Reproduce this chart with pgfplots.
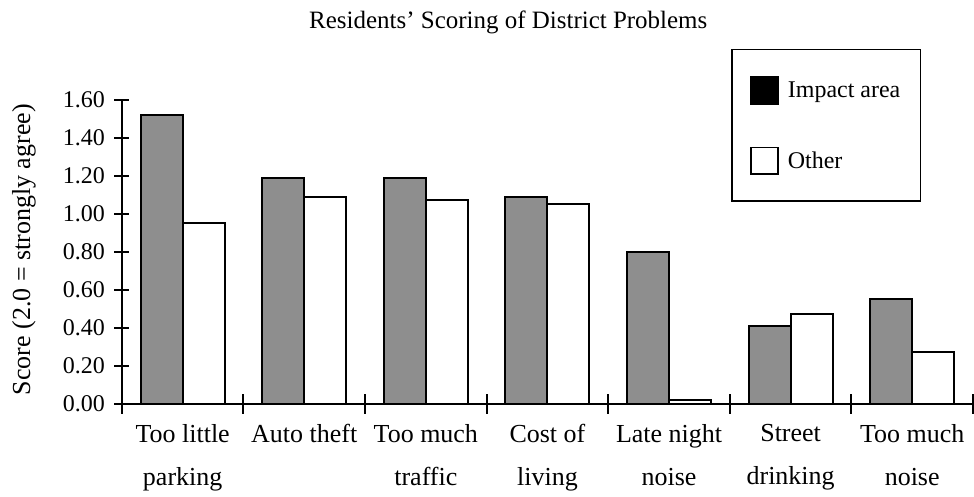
\documentclass[border=0pt]{standalone}
\usepackage{fontspec}
\setmainfont{Liberation Serif}
\usepackage{pgfplots}
\pgfplotsset{compat=1.18}
\definecolor{barfill}{HTML}{8E8E8E}

\begin{document}
\begin{tikzpicture}
\begin{axis}[
    scale only axis, width=852pt, height=304pt,
    ybar=0pt, bar width=42pt,
    xmin=-0.5, xmax=6.5, ymin=0, ymax=1.6,
    axis x line=bottom, axis y line=left,
    axis line style={-, line width=2pt},
    xtick={0,...,6}, major x tick style={draw=none},
    xticklabels={Too little\\parking, Auto theft, Too much\\traffic, Cost of\\living, Late night\\noise, Street\\drinking, Too much\\noise},
    x tick label style={align=center, font=\fontsize{26}{43}\selectfont, yshift=-10pt},
    minor xtick={-0.5,0.5,...,6.5},
    minor x tick style={draw=black, line width=2pt},
    minor tick length=20pt,
    ytick={0,0.2,...,1.6},
    y tick label style={/pgf/number format/fixed, /pgf/number format/fixed zerofill,
        /pgf/number format/precision=2, /pgf/number format/assume math mode=true,
        font=\fontsize{24}{26}\selectfont, xshift=-6pt},
    y tick style={draw=black, line width=2pt},
    major tick length=15pt,
    tick align=center,
    ylabel={Score (2.0 = strongly agree)},
    every axis y label/.style={at={(rel axis cs:0,0.507)}, xshift=-98pt, rotate=90, anchor=center,
        font=\fontsize{26}{28}\selectfont},
    title={Residents' Scoring of District Problems},
    title style={at={(0.454,1.185)}, font=\fontsize{25}{27}\selectfont},
    legend style={at={(0.939,1.168)}, anchor=north east, draw=black, line width=1.5pt,
        font=\fontsize{24}{26}\selectfont, row sep=42pt, inner xsep=18pt, inner ysep=26pt,
        cells={anchor=west}, /tikz/every odd column/.style={column sep=7pt}},
    legend image code/.code={\draw[#1, line width=1.5pt] (0pt,-13pt) rectangle (27pt,14pt);},
]
\addplot[fill=barfill, draw=black, line width=2pt,
    legend image code/.code={\fill[black] (0pt,-13pt) rectangle (27pt,14pt);}]
    coordinates {(0,1.52) (1,1.19) (2,1.19) (3,1.09) (4,0.80) (5,0.41) (6,0.55)};
\addplot[fill=white, draw=black, line width=2pt]
    coordinates {(0,0.95) (1,1.09) (2,1.07) (3,1.05) (4,0.02) (5,0.47) (6,0.27)};
\legend{Impact area, Other}
\end{axis}
\path ([xshift=-122pt,yshift=-93pt]current axis.south west);
\path ([xshift=-122pt,yshift=100pt]current axis.north west);
\end{tikzpicture}
\end{document}
